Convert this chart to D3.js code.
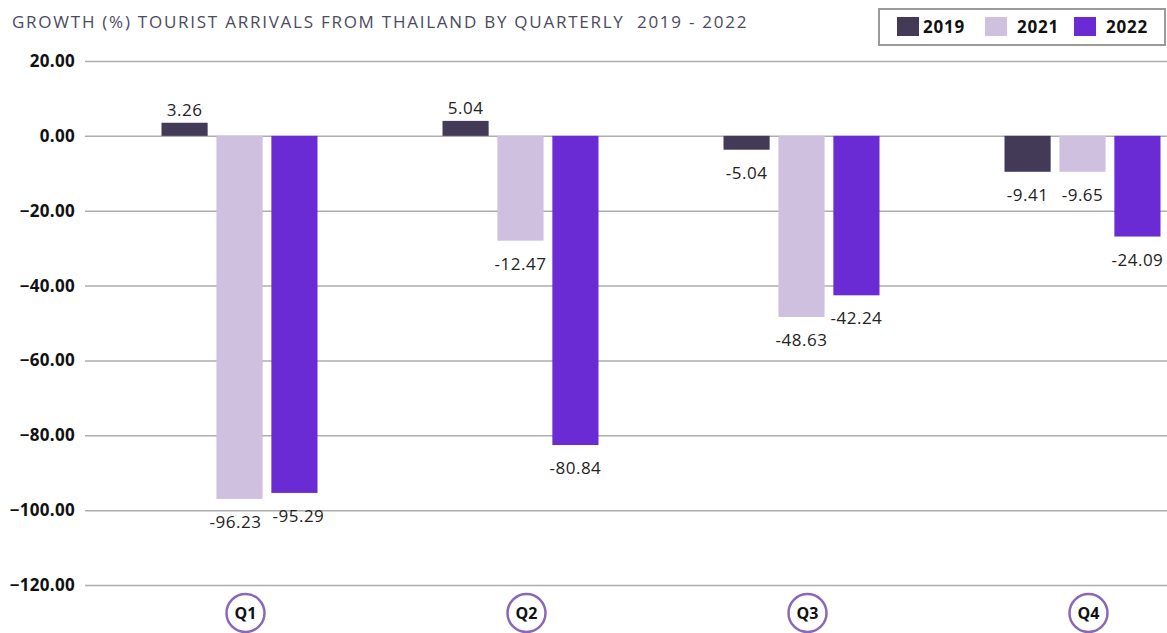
<!DOCTYPE html>
<html>
<head>
<meta charset="utf-8">
<script src="https://cdn.jsdelivr.net/npm/d3@7"></script>
<style>
	body { margin: 0; background: #fff; }
	text { font-family: 'Open Sans', 'Noto Sans', sans-serif; }
</style>
</head>
<body>
<div id="chart"></div>
<script>
// DATA
const quarters = ['Q1', 'Q2', 'Q3', 'Q4'];
const years = ['2019', '2021', '2022'];
// bar lengths as drawn in the picture
const bars2019 = [3.5, 4.0, -3.7, -9.6];
const bars2021 = [-97.0, -28.0, -48.4, -9.6];
const bars2022 = [-95.4, -82.6, -42.6, -26.9];
// value labels as printed
const labels2019 = ['3.26', '5.04', '-5.04', '-9.41'];
const labels2021 = ['-96.23', '-12.47', '-48.63', '-9.65'];
const labels2022 = ['-95.29', '-80.84', '-42.24', '-24.09'];
const yTickValues = [20, 0, -20, -40, -60, -80, -100, -120];
const colours = ['#433a58', '#cfc0e0', '#6a2ad4'];
const title = 'GROWTH (%) TOURIST ARRIVALS FROM THAILAND BY QUARTERLY  2019 - 2022';

// THE GOOD STUFF
const width = 1167, height = 633;
const margin = { top: 61, right: 0, bottom: 48, left: 85 };

const svg = d3.select('#chart')
	.append('svg')
	.attr('width', width)
	.attr('height', height);

const xScale = d3.scaleBand()
	.domain(quarters)
	.range([99, 1223]);

const xInner = d3.scaleBand()
	.domain(years)
	.range([-78, 78])
	.paddingInner(0.16);

const yScale = d3.scaleLinear()
	.domain([-120, 20])
	.range([585, 61]);

// gridlines
svg.append('g')
	.attr('class', 'gridline')
	.attr('transform', `translate(${margin.left},0)`)
	.call(d3.axisLeft(yScale)
		.tickValues(yTickValues)
		.tickSize(-(width - margin.left))
		.tickFormat('')
	)
	.call(g => g.select('.domain').remove())
	.call(g => g.selectAll('line').attr('stroke', '#adadad').attr('stroke-width', 1.5));

// y axis labels
svg.append('g')
	.attr('class', 'y-axis')
	.attr('transform', `translate(${margin.left},0)`)
	.call(d3.axisLeft(yScale)
		.tickValues(yTickValues)
		.tickSize(0)
		.tickPadding(10)
		.tickFormat(d3.format('.2f'))
	)
	.call(g => g.select('.domain').remove())
	.call(g => g.selectAll('text')
		.attr('font-size', 17)
		.attr('font-weight', 'bold')
		.attr('fill', '#111')
		.style('letter-spacing', '0.3px')
		.style('font-family', "'Open Sans', sans-serif"));

// bars
const series = [
	{ year: '2019', bars: bars2019, labels: labels2019 },
	{ year: '2021', bars: bars2021, labels: labels2021 },
	{ year: '2022', bars: bars2022, labels: labels2022 }
];

const labelY = v => v >= 0 ? yScale(v) - 7 : yScale(v) + 29;
// do two neighbouring labels run into each other?
const clash = (a, b, j) => Math.abs(labelY(a.bars[j]) - labelY(b.bars[j])) < 18
	&& (a.labels[j].length + b.labels[j].length) * 4.6 > xInner.step() - 6;

series.forEach((s, i) => {
	const rows = quarters.map((q, j) => ({ q, j, v: s.bars[j], label: s.labels[j] }));
	const xPos = d => xScale(d.q) + xScale.bandwidth() / 2 + xInner(s.year);

	const nudge = d => {
		let dx = 0;
		if (series[i - 1] && clash(series[i - 1], s, d.j)) dx += 4;
		if (series[i + 1] && clash(s, series[i + 1], d.j)) dx -= 4;
		return dx;
	};

	svg.append('g')
		.attr('class', 'bar')
		.selectAll('rect')
		.data(rows)
		.join('rect')
		.attr('fill', colours[i])
		.attr('x', xPos)
		.attr('y', d => yScale(Math.max(0, d.v)))
		.attr('width', xInner.bandwidth())
		.attr('height', d => Math.abs(yScale(d.v) - yScale(0)));

	svg.append('g')
		.attr('class', 'value-label')
		.selectAll('text')
		.data(rows)
		.join('text')
		.attr('x', d => xPos(d) + xInner.bandwidth() / 2 + nudge(d))
		.attr('y', d => labelY(d.v))
		.attr('text-anchor', 'middle')
		.attr('font-size', 17)
		.attr('fill', '#222')
		.style('letter-spacing', '0.5px')
		.text(d => d.label);
});

// quarter labels in circles
const qLabels = svg.append('g')
	.attr('class', 'x-axis')
	.selectAll('g')
	.data(quarters)
	.join('g')
	.attr('transform', d => `translate(${xScale(d) + xScale.bandwidth() / 2 + 6}, 613)`);

qLabels.append('circle')
	.attr('r', 19)
	.attr('fill', '#fff')
	.attr('stroke', '#8a68b8')
	.attr('stroke-width', 2.5);

qLabels.append('text')
	.attr('text-anchor', 'middle')
	.attr('dy', '0.35em')
	.attr('font-size', 16)
	.attr('font-weight', 'bold')
	.attr('fill', '#111')
	.text(d => d);

// title
svg.append('text')
	.attr('x', 12)
	.attr('y', 28)
	.attr('font-size', 17)
	.attr('fill', '#4a4a62')
	.style('white-space', 'pre')
	.style('letter-spacing', '1.75px')
	.attr('xml:space', 'preserve')
	.text(title);

// legend
const legend = svg.append('g').attr('class', 'legend');
legend.append('rect')
	.attr('x', 879)
	.attr('y', 9)
	.attr('width', 286)
	.attr('height', 36)
	.attr('fill', '#fff')
	.attr('stroke', '#9a9a9a')
	.attr('stroke-width', 2);

const legendX = [897, 985, 1074];
const legendItems = legend.selectAll('g.item')
	.data(years)
	.join('g')
	.attr('class', 'item')
	.attr('transform', (d, i) => `translate(${legendX[i]}, 17)`);

legendItems.append('rect')
	.attr('width', 22)
	.attr('height', 19)
	.attr('fill', (d, i) => colours[i]);

legendItems.append('text')
	.attr('x', (d, i) => i === 0 ? 26 : 32)
	.attr('y', 16)
	.attr('font-size', 17)
	.attr('font-weight', 'bold')
	.attr('fill', '#111')
	.style('letter-spacing', '0.8px')
	.text(d => d);
</script>
</body>
</html>
